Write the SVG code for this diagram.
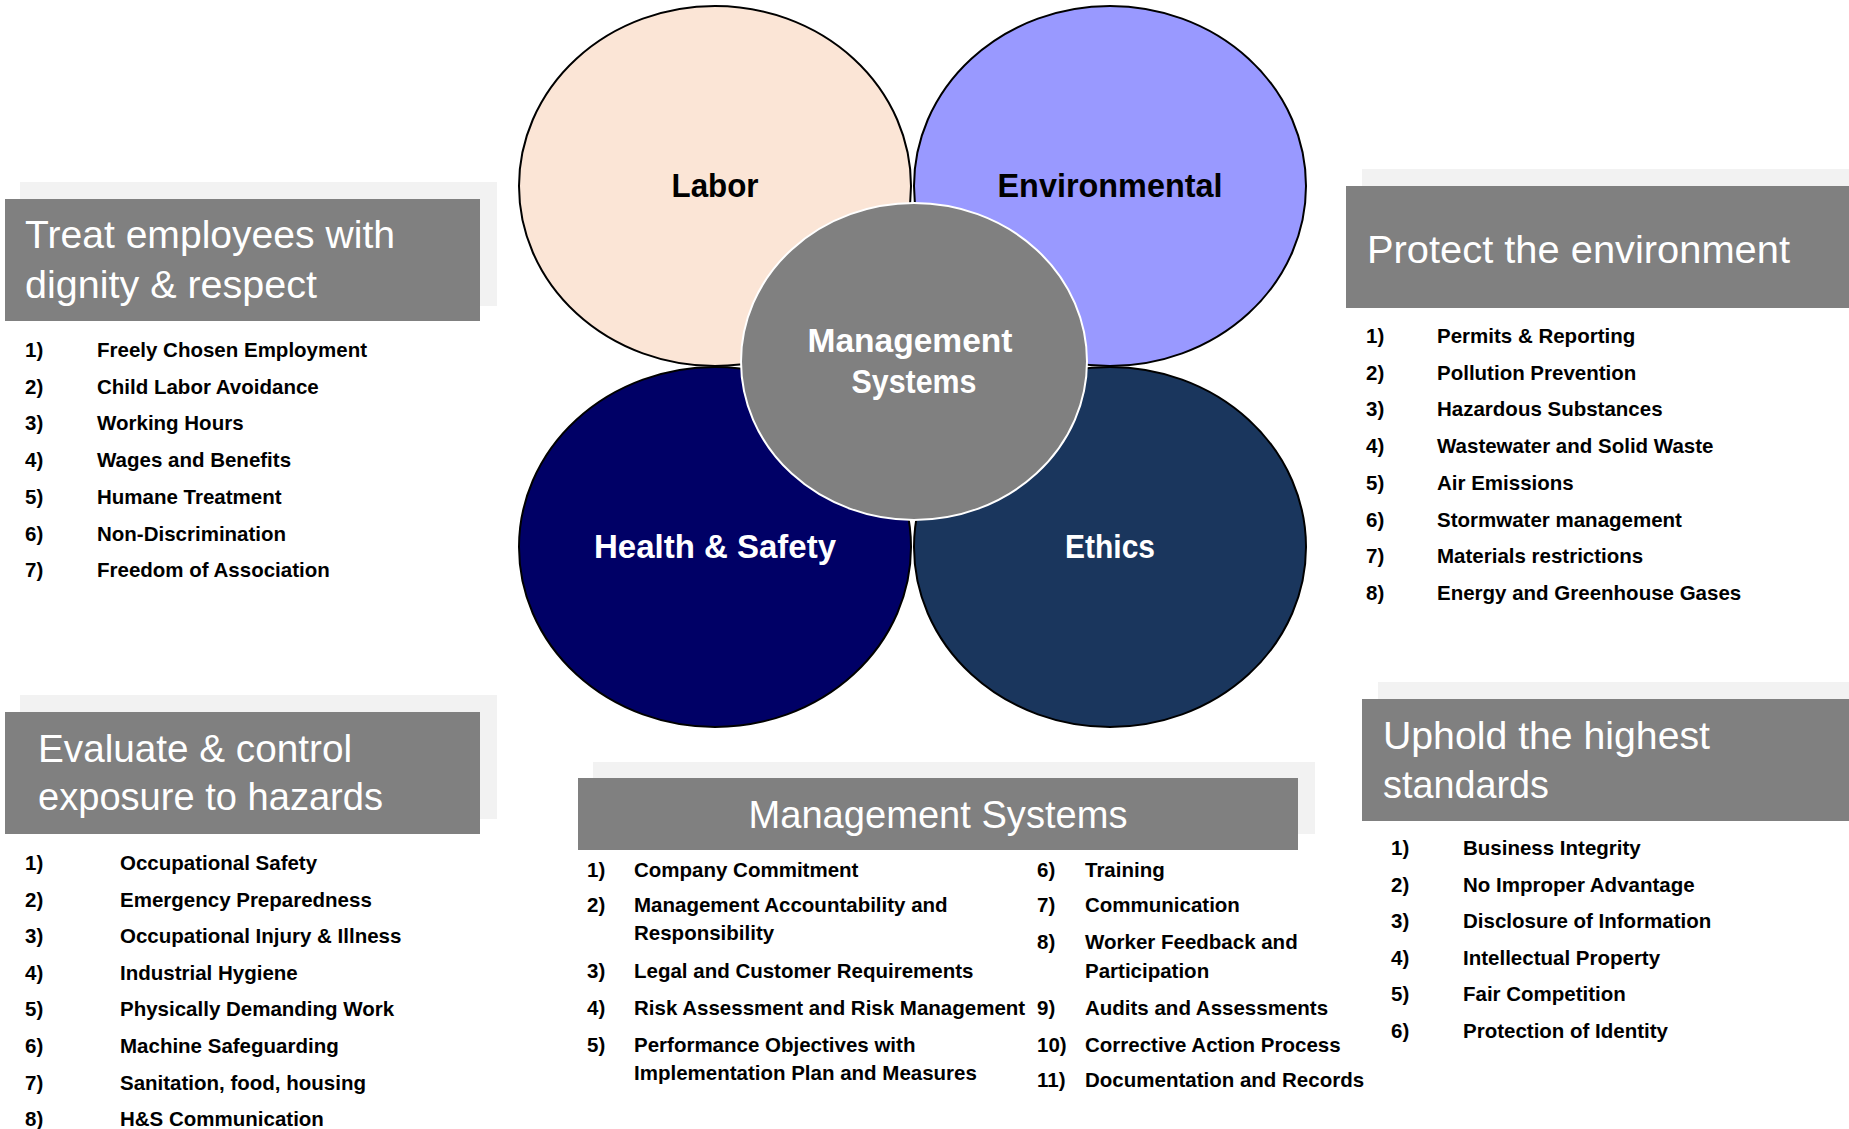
<svg xmlns="http://www.w3.org/2000/svg" width="1849" height="1129" viewBox="0 0 1849 1129">
<style>
.bg{fill:#F2F2F2}
.hd{fill:#808080}
.ttl{font-family:"Liberation Sans",Arial,sans-serif;font-size:39px;fill:#FFFFFF}
.it{font-family:"Liberation Sans",Arial,sans-serif;font-size:20.5px;font-weight:bold;fill:#000000}
.cl{font-family:"Liberation Sans",Arial,sans-serif;font-size:33px;font-weight:bold;text-anchor:middle}
.ring{stroke:#000000;stroke-width:2}
</style>
<rect width="1849" height="1129" fill="#FFFFFF"/>

<g id="labor">
<ellipse class="ring" cx="715" cy="186" rx="196" ry="180" fill="#FBE5D6"/>
<text class="cl" x="715" y="197" fill="#000000" textLength="87" lengthAdjust="spacingAndGlyphs">Labor</text>
</g>
<g id="environmental">
<ellipse class="ring" cx="1110" cy="186" rx="196" ry="180" fill="#9999FF"/>
<text class="cl" x="1110" y="197" fill="#000000" textLength="225" lengthAdjust="spacingAndGlyphs">Environmental</text>
</g>
<g id="health-safety">
<ellipse class="ring" cx="715" cy="547" rx="196" ry="180" fill="#000066"/>
<text class="cl" x="715" y="558" fill="#FFFFFF" textLength="242" lengthAdjust="spacingAndGlyphs">Health &amp; Safety</text>
</g>
<g id="ethics">
<ellipse class="ring" cx="1110" cy="547" rx="196" ry="180" fill="#1A365D"/>
<text class="cl" x="1110" y="558" fill="#FFFFFF" textLength="90" lengthAdjust="spacingAndGlyphs">Ethics</text>
</g>
<g id="management-systems">
<ellipse cx="914" cy="361.5" rx="173" ry="158.5" fill="#808080" stroke="#FFFFFF" stroke-width="2"/>
<text class="cl" x="910" y="352" fill="#FFFFFF" textLength="205" lengthAdjust="spacingAndGlyphs">Management</text>
<text class="cl" x="914" y="393" fill="#FFFFFF" textLength="125" lengthAdjust="spacingAndGlyphs">Systems</text>
</g>

<g id="connectors"></g>

<g id="panel-labor">
<rect class="bg" x="20" y="182" width="477" height="124"/>
<rect class="hd" x="5" y="199" width="475" height="122"/>
<text class="ttl" x="25" y="248" textLength="370" lengthAdjust="spacingAndGlyphs">Treat employees with</text>
<text class="ttl" x="25" y="298" textLength="292" lengthAdjust="spacingAndGlyphs">dignity &amp; respect</text>
<g class="it">
<text x="25" y="357">1)</text><text x="97" y="357">Freely Chosen Employment</text>
<text x="25" y="393.7">2)</text><text x="97" y="393.7">Child Labor Avoidance</text>
<text x="25" y="430.4">3)</text><text x="97" y="430.4">Working Hours</text>
<text x="25" y="467.1">4)</text><text x="97" y="467.1">Wages and Benefits</text>
<text x="25" y="503.8">5)</text><text x="97" y="503.8">Humane Treatment</text>
<text x="25" y="540.5">6)</text><text x="97" y="540.5">Non-Discrimination</text>
<text x="25" y="577.2">7)</text><text x="97" y="577.2">Freedom of Association</text>
</g>
</g>

<g id="panel-health-safety">
<rect class="bg" x="20" y="695" width="477" height="124"/>
<rect class="hd" x="5" y="712" width="475" height="122"/>
<text class="ttl" x="38" y="762" textLength="314" lengthAdjust="spacingAndGlyphs">Evaluate &amp; control</text>
<text class="ttl" x="38" y="810" textLength="345" lengthAdjust="spacingAndGlyphs">exposure to hazards</text>
<g class="it">
<text x="25" y="870">1)</text><text x="120" y="870">Occupational Safety</text>
<text x="25" y="906.6">2)</text><text x="120" y="906.6">Emergency Preparedness</text>
<text x="25" y="943.2">3)</text><text x="120" y="943.2">Occupational Injury &amp; Illness</text>
<text x="25" y="979.8">4)</text><text x="120" y="979.8">Industrial Hygiene</text>
<text x="25" y="1016.4">5)</text><text x="120" y="1016.4">Physically Demanding Work</text>
<text x="25" y="1053">6)</text><text x="120" y="1053">Machine Safeguarding</text>
<text x="25" y="1089.6">7)</text><text x="120" y="1089.6">Sanitation, food, housing</text>
<text x="25" y="1126.2">8)</text><text x="120" y="1126.2">H&amp;S Communication</text>
</g>
</g>

<g id="panel-environment">
<rect class="bg" x="1362" y="169" width="487" height="124"/>
<rect class="hd" x="1346" y="186" width="503" height="122"/>
<text class="ttl" x="1367" y="263" textLength="423" lengthAdjust="spacingAndGlyphs">Protect the environment</text>
<g class="it">
<text x="1366" y="343">1)</text><text x="1437" y="343">Permits &amp; Reporting</text>
<text x="1366" y="379.7">2)</text><text x="1437" y="379.7">Pollution Prevention</text>
<text x="1366" y="416.4">3)</text><text x="1437" y="416.4">Hazardous Substances</text>
<text x="1366" y="453.1">4)</text><text x="1437" y="453.1">Wastewater and Solid Waste</text>
<text x="1366" y="489.8">5)</text><text x="1437" y="489.8">Air Emissions</text>
<text x="1366" y="526.5">6)</text><text x="1437" y="526.5">Stormwater management</text>
<text x="1366" y="563.2">7)</text><text x="1437" y="563.2">Materials restrictions</text>
<text x="1366" y="599.9">8)</text><text x="1437" y="599.9">Energy and Greenhouse Gases</text>
</g>
</g>

<g id="panel-ethics">
<rect class="bg" x="1378" y="682" width="471" height="124"/>
<rect class="hd" x="1362" y="699" width="487" height="122"/>
<text class="ttl" x="1383" y="749" textLength="327" lengthAdjust="spacingAndGlyphs">Uphold the highest</text>
<text class="ttl" x="1383" y="798" textLength="166" lengthAdjust="spacingAndGlyphs">standards</text>
<g class="it">
<text x="1391" y="855">1)</text><text x="1463" y="855">Business Integrity</text>
<text x="1391" y="891.6">2)</text><text x="1463" y="891.6">No Improper Advantage</text>
<text x="1391" y="928.2">3)</text><text x="1463" y="928.2">Disclosure of Information</text>
<text x="1391" y="964.8">4)</text><text x="1463" y="964.8">Intellectual Property</text>
<text x="1391" y="1001.4">5)</text><text x="1463" y="1001.4">Fair Competition</text>
<text x="1391" y="1038">6)</text><text x="1463" y="1038">Protection of Identity</text>
</g>
</g>

<g id="panel-management">
<rect class="bg" x="593" y="762" width="722" height="72"/>
<rect class="hd" x="578" y="778" width="720" height="72"/>
<text class="ttl" x="938" y="828" text-anchor="middle" textLength="379" lengthAdjust="spacingAndGlyphs">Management Systems</text>
<g class="it">
<text x="587" y="877">1)</text><text x="634" y="877">Company Commitment</text>
<text x="587" y="912">2)</text><text x="634" y="912">Management Accountability and</text>
<text x="634" y="940">Responsibility</text>
<text x="587" y="978">3)</text><text x="634" y="978">Legal and Customer Requirements</text>
<text x="587" y="1015">4)</text><text x="634" y="1015">Risk Assessment and Risk Management</text>
<text x="587" y="1052">5)</text><text x="634" y="1052">Performance Objectives with</text>
<text x="634" y="1080">Implementation Plan and Measures</text>
<text x="1037" y="877">6)</text><text x="1085" y="877">Training</text>
<text x="1037" y="912">7)</text><text x="1085" y="912">Communication</text>
<text x="1037" y="949">8)</text><text x="1085" y="949">Worker Feedback and</text>
<text x="1085" y="978">Participation</text>
<text x="1037" y="1015">9)</text><text x="1085" y="1015">Audits and Assessments</text>
<text x="1037" y="1052">10)</text><text x="1085" y="1052">Corrective Action Process</text>
<text x="1037" y="1087">11)</text><text x="1085" y="1087">Documentation and Records</text>
</g>
</g>
</svg>
